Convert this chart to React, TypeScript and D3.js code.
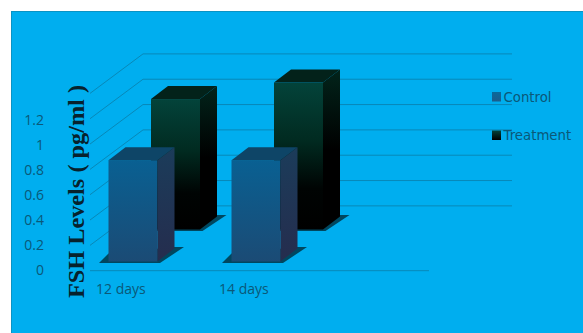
import React from "react";
import * as d3 from "d3";

const categories = ["12 days", "14 days"];
const controlValues = [0.8, 0.8];
const treatmentValues = [1.03, 1.16];
const tickValues = [0, 0.2, 0.4, 0.6, 0.8, 1, 1.2];
const wallLevels = [0.2, 0.4, 0.6, 0.8, 1, 1.2, 1.4];

const W = 583;
const H = 333;
const ORIGIN_X = 90;
const ORIGIN_Y = 270.7;
// Oblique projection of the back wall and of each bar's depth.
const WALL_DX = 53;
const WALL_DY = 39.5;
const BAR_DX = 17;
const BAR_DY = 13;
const BAR_W = 49;

const y = d3.scaleLinear().domain([0, 1.4]).range([ORIGIN_Y, ORIGIN_Y - 177.3]);
const x = d3.scaleBand<string>().domain(categories).range([108.5, 354.5]);
// Axis labels sit on a slightly tighter pitch than the wall gridlines.
const tickBaseline = d3.scaleLinear().domain([0, 1.2]).range([275, 125]);

const INK = "#0b5878";
const GRID = "#0888b8";

const poly = (pts: [number, number][]) => (d3.line()(pts) ?? "") + "Z";

type BarProps = {
  left: number;
  value: number;
  lift: number;
  front: string;
  side: string;
  top: string;
};

function Bar({ left, value, lift, front, side, top }: BarProps) {
  const bottom = ORIGIN_Y - lift;
  const h = y(0) - y(value);
  const t = bottom - h;
  const r = left + BAR_W;
  return (
    <g>
      <path
        d={poly([
          [left - 9.5, bottom + 1.5],
          [r + 2.5, bottom + 1.5],
          [r + 26.5, bottom - 14.5],
          [r + BAR_DX, bottom - 14.5],
          [left, bottom - 8],
        ])}
        fill="#05465f"
        filter="url(#soft)"
      />
      <rect x={left} y={t} width={BAR_W} height={h} fill={`url(#${front})`} />
      <path
        d={poly([
          [r, t],
          [r + BAR_DX, t - BAR_DY],
          [r + BAR_DX, bottom - BAR_DY],
          [r, bottom],
        ])}
        fill={`url(#${side})`}
      />
      <path
        d={poly([
          [left, t],
          [left + BAR_DX, t - BAR_DY],
          [r + BAR_DX, t - BAR_DY],
          [r, t],
        ])}
        fill={top}
      />
    </g>
  );
}

function vGrad(id: string, stops: [number, string][]) {
  return (
    <linearGradient id={id} x1="0" y1="0" x2="0" y2="1">
      {stops.map(([o, c]) => (
        <stop key={o} offset={o} stopColor={c} />
      ))}
    </linearGradient>
  );
}

export default function App() {
  const treatmentOffset = 42.5;
  return (
    <svg
      width={W}
      height={H}
      viewBox={`0 0 ${W} ${H}`}
      style={{ position: "absolute", left: 0, top: 0, background: "#fff" }}
    >
      <defs>
        {vGrad("ctlFront", [[0, "#096092"], [1, "#1b4b75"]])}
        {vGrad("ctlSide", [[0, "#1b3c5a"], [1, "#252d4e"]])}
        {vGrad("trtFront", [[0, "#03433a"], [0.4, "#012a20"], [0.72, "#000403"], [1, "#000000"]])}
        {vGrad("trtSide", [[0, "#02241b"], [0.5, "#000000"], [1, "#000000"]])}
        {vGrad("legCtl", [[0, "#0a6a9b"], [1, "#1c5c8c"]])}
        {vGrad("legTrt", [[0, "#03433a"], [1, "#000000"]])}
        <filter id="soft" x="-10%" y="-20%" width="120%" height="140%">
          <feGaussianBlur stdDeviation="0.5" />
        </filter>
      </defs>

      <rect x={11.5} y={11.5} width={W} height={H} fill="#00aeef" stroke="#0a93c4" />

      {/* back wall and left wall gridlines */}
      {wallLevels.map((v) => (
        <path
          key={v}
          d={
            d3.line()([
              [ORIGIN_X, y(v)],
              [ORIGIN_X + WALL_DX, y(v) - WALL_DY],
              [512, y(v) - WALL_DY],
            ]) ?? ""
          }
          fill="none"
          stroke={GRID}
          strokeWidth={1}
        />
      ))}
      <line x1={ORIGIN_X} x2={429} y1={ORIGIN_Y} y2={ORIGIN_Y} stroke={GRID} />

      {/* rear series first so the front series overlaps it */}
      {categories.map((c, i) => (
        <Bar
          key={c}
          left={(x(c) ?? 0) + treatmentOffset}
          value={treatmentValues[i]}
          lift={41.2}
          front="trtFront"
          side="trtSide"
          top="#03221a"
        />
      ))}
      {categories.map((c, i) => (
        <Bar
          key={c}
          left={x(c) ?? 0}
          value={controlValues[i]}
          lift={9.2}
          front="ctlFront"
          side="ctlSide"
          top="#0e4567"
        />
      ))}

      <g fontFamily="'Open Sans', sans-serif" fontSize={14} fill={INK}>
        {tickValues.map((v) => (
          <text key={v} x={44} y={tickBaseline(v)} textAnchor="end">
            {String(v)}
          </text>
        ))}
        {categories.map((c) => (
          <text key={c} x={(x(c) ?? 0) - 12.5} y={294}>
            {c}
          </text>
        ))}
      </g>

      <text
        transform="translate(84,191.5) rotate(-90)"
        textAnchor="middle"
        fontFamily="'Liberation Serif', serif"
        fontWeight="bold"
        fontSize={24}
        textLength={213}
        lengthAdjust="spacingAndGlyphs"
        fill="#07222d"
      >
        FSH Levels ( pg/ml )
      </text>

      {/* legend */}
      <g fontFamily="'DejaVu Sans', sans-serif" fontSize={13.3} fill={INK}>
        <rect x={492} y={92} width={9} height={9.5} fill="url(#legCtl)" />
        <text x={503.5} y={101.5}>Control</text>
        <rect x={492} y={130.5} width={9} height={9.5} fill="url(#legTrt)" />
        <text x={503.5} y={139.5}>Treatment</text>
      </g>
    </svg>
  );
}
